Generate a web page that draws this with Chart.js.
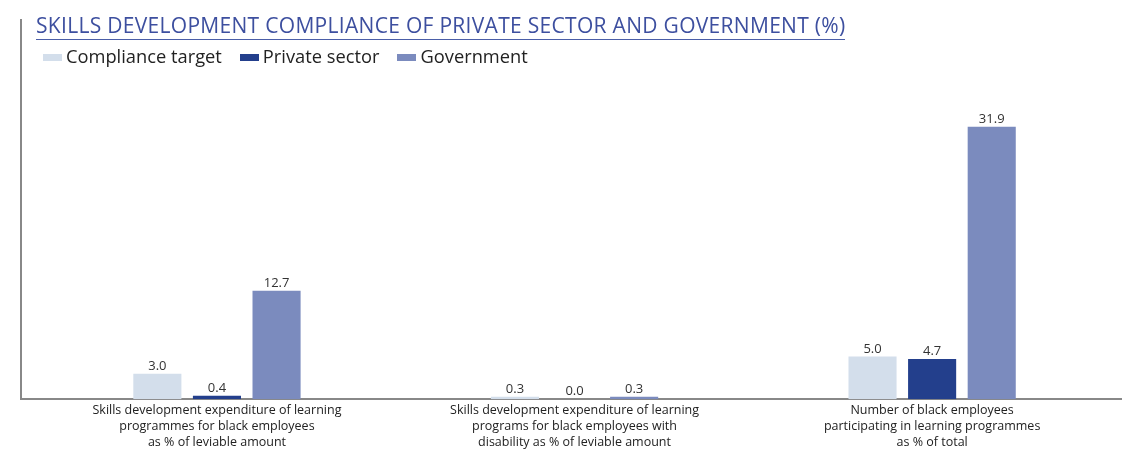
<!DOCTYPE html>
<html><head><meta charset="utf-8">
<script src="https://cdn.jsdelivr.net/npm/chart.js@4.4.1/dist/chart.umd.min.js"></script>
<style>
html,body{margin:0;padding:0;background:#fff;}
#wrap{position:relative;width:1122px;height:450px;}
#title{position:absolute;left:36px;top:13px;font-family:"Open Sans",sans-serif;font-size:21px;color:#3d4f9f;border-bottom:1.5px solid #4a5ea8;line-height:25px;padding-bottom:1px;white-space:nowrap;letter-spacing:0.3px;}
#legend{position:absolute;left:43px;top:43px;font-family:"Open Sans",sans-serif;font-size:18.3px;color:#222;display:flex;white-space:nowrap;}
.li{display:flex;align-items:center;margin-right:18px;}
.sw{width:19px;height:7px;margin-right:4px;margin-top:3px;}
</style></head>
<body><div id="wrap">
<canvas id="c" width="1122" height="450"></canvas>
<div id="title"></div>
<div id="legend"></div>
</div>
<script>
const titleText = "SKILLS DEVELOPMENT COMPLIANCE OF PRIVATE SECTOR AND GOVERNMENT (%)";
const categories = [
  ["Skills development expenditure of learning", "programmes for black employees", "as % of leviable amount"],
  ["Skills development expenditure of learning", "programs for black employees with", "disability as % of leviable amount"],
  ["Number of black employees", "participating in learning programmes", "as % of total"]
];
const seriesNames = ["Compliance target", "Private sector", "Government"];
const complianceTarget = [3.0, 0.3, 5.0];
const privateSector = [0.4, 0.0, 4.7];
const government = [12.7, 0.3, 31.9];
const seriesColors = ["#d3deeb", "#233f8c", "#7b8bbe"];

document.getElementById('title').textContent = titleText;
const lg = document.getElementById('legend');
seriesNames.forEach((n,i)=>{
  const d=document.createElement('div');d.className='li';
  d.innerHTML='<span class="sw" style="background:'+seriesColors[i]+'"></span><span>'+n+'</span>';
  lg.appendChild(d);
});

const allSeries=[complianceTarget, privateSector, government];
const datasets = allSeries.map((arr,i)=>({
  label: seriesNames[i],
  data: arr.map((v,j)=>({x:j,y:v})),
  backgroundColor: seriesColors[i],
  borderWidth:0,
  barPercentage:0.807,
  categoryPercentage:0.5
}));

const valueLabels = {
  id:'valueLabels',
  afterDatasetsDraw(chart){
    const ctx=chart.ctx;
    ctx.save();
    ctx.font='13px "Open Sans", sans-serif';
    ctx.fillStyle='#333';
    ctx.textAlign='center';
    ctx.textBaseline='bottom';
    chart.data.datasets.forEach((ds,i)=>{
      chart.getDatasetMeta(i).data.forEach((el,j)=>{
        ctx.fillText(ds.data[j].y.toFixed(1), el.x, el.y-1);
      });
    });
    ctx.restore();
  }
};

new Chart(document.getElementById('c'),{
  type:'bar',
  data:{datasets},
  options:{
    responsive:false,
    animation:false,
    layout:{padding:{left:21,right:0,top:20,bottom:-4}},
    plugins:{legend:{display:false},tooltip:{enabled:false},title:{display:false}},
    scales:{
      x:{
        type:'linear',
        min:-0.548,
        max:2.531,
        offset:false,
        afterBuildTicks(scale){ scale.ticks=[0,1,2].map(v=>({value:v})); },
        ticks:{
          autoSkip:false,
          maxRotation:0,
          callback:(v)=>categories[v],
          font:{family:'"Open Sans", sans-serif',size:12.5,lineHeight:1.3},
          color:'#222',
          padding:3
        },
        grid:{display:false,drawTicks:false},
        border:{display:true,color:'#888',width:2}
      },
      y:{
        min:0,
        max:44.4,
        ticks:{display:false},
        grid:{display:false,drawTicks:false},
        border:{display:true,color:'#888',width:2}
      }
    }
  },
  plugins:[valueLabels]
});
</script>
</body></html>
